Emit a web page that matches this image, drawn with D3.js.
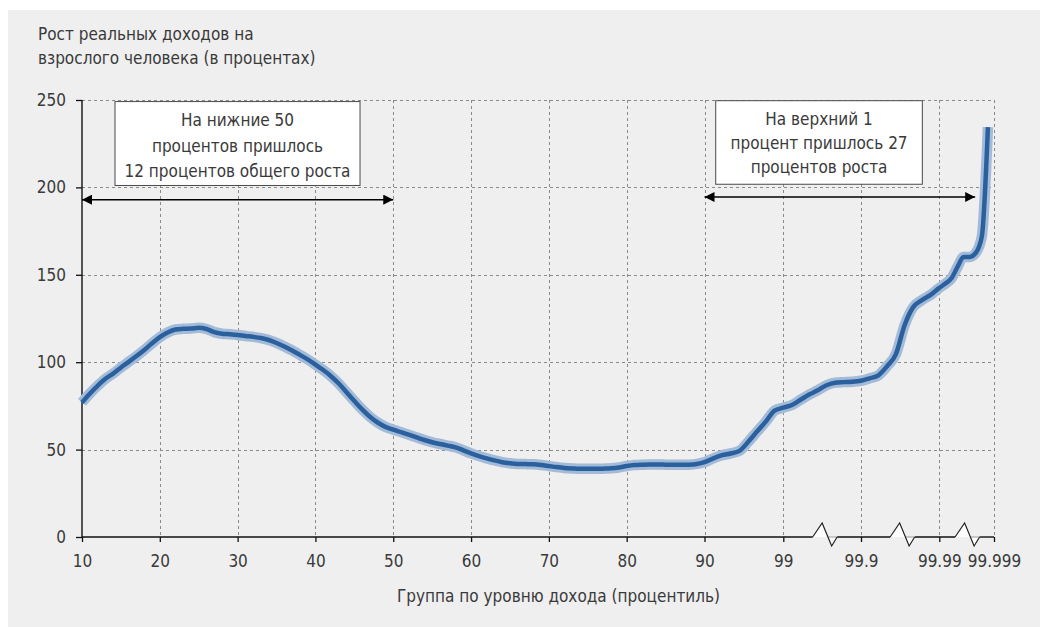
<!DOCTYPE html>
<html><head><meta charset="utf-8">
<script src="https://cdn.jsdelivr.net/npm/d3@7"></script>
<style>
html,body{margin:0;padding:0;background:#fff;}
svg text{font-family:"Liberation Sans Narrow","Arial Narrow","DejaVu Sans Condensed","Roboto",sans-serif;fill:#3a3a3a;}
</style></head><body>
<svg id="chart" width="1040" height="627"></svg>
<script>
// ---------- DATA ----------
const percentiles = [10,11,12,13,14,15,16,17,18,19,20,21,22,23,24,25,26,27,28,29,30,31,32,33,34,35,36,37,38,39,40,41,42,43,44,45,46,47,48,49,50,51,52,53,54,55,56,57,58,59,60,61,62,63,64,65,66,67,68,69,70,71,72,73,74,75,76,77,78,79,80,81,82,83,84,85,86,87,88,89,90,91,92,93,94,95,96,97,98,99,
  99.1,99.2,99.3,99.4,99.5,99.6,99.7,99.8,99.9,
  99.91,99.92,99.93,99.94,99.95,99.96,99.97,99.98,99.99,
  99.991,99.992,99.993,99.994,99.995,99.996,99.997,99.998];
const growth = [77,82,86.5,90.5,93.5,97,100.2,103.5,107,110.8,114.3,117,118.7,119.1,119.3,119.7,119,117.2,116.3,116,115.6,115,114.5,113.8,112.7,111,109,106.7,104.2,101.6,98.6,95.5,92,87.8,82.8,77.8,73,68.8,65.5,63,61.4,60,58.5,57,55.5,54.2,53.2,52.3,51.3,49.6,47.8,46.3,45,43.8,42.8,42.2,41.8,41.7,41.6,41.2,40.6,40,39.5,39.2,39,39,39,39.1,39.3,39.8,40.6,41.2,41.4,41.5,41.5,41.4,41.3,41.3,41.4,41.8,42.8,45,46.8,47.8,49.3,54.5,60.3,66,72.3,74,
  75.5,78.5,81.5,84,86.8,88.3,88.6,88.8,89.4,
  90.8,92.5,97.7,104.5,121,131.5,135.5,138.5,142.5,
  145,148,154.5,160.2,160.2,162.5,172,234.5];
const xTickValues = [10,20,30,40,50,60,70,80,90,99,99.9,99.99,99.999];
const xTickLabels = ["10","20","30","40","50","60","70","80","90","99","99.9","99.99","99.999"];
const yTickValues = [0,50,100,150,200,250];
const yTickLabels = ["0","50","100","150","200","250"];
const breakPoints = [99.34, 99.9335, 99.9926];
const titleLines = ["Рост реальных доходов на","взрослого человека (в процентах)"];
const xTitle = "Группа по уровню дохода (процентиль)";
const noteBottomLines = ["На нижние 50","процентов пришлось","12 процентов общего роста"];
const noteTopLines = ["На верхний 1","процент пришлось 27","процентов роста"];
const noteBottomBox = [14.24, 45.73, 249.1, 201.1];
const noteTopBox = [91.28, 99.9705, 249.6, 201.8];
const arrowBottom = [10, 50, 193];
const arrowTop = [90, 99.9959, 194.5];

// ---------- LAYOUT ----------
const svg = d3.select("#chart");
const L = 82, R = 994, T = 100, B = 537;
const x = d3.scaleLinear()
  .domain([10, 90, 99, 99.9, 99.99, 99.999])
  .range([L, 704.5, 783.3, 861, 939.3, R]);
const y = d3.scaleLinear().domain([0, 250]).range([B, T]);

svg.append("rect").attr("x", 8).attr("y", 10).attr("width", 1032).attr("height", 617).attr("fill", "#efefef");

// title
svg.append("g").selectAll("text").data(titleLines).join("text")
  .attr("x", 38).attr("y", (d, i) => 39.5 + i * 24)
  .style("font-size", "17px").text(d => d);

// grid
const grid = svg.append("g").attr("stroke", "#8a8a8a").attr("stroke-width", 1).attr("stroke-dasharray", "3,3");
grid.selectAll("line.h").data(yTickValues.filter(v => v > 0)).join("line")
  .attr("x1", L).attr("x2", R).attr("y1", d => Math.round(y(d)) + 0.5).attr("y2", d => Math.round(y(d)) + 0.5);
grid.selectAll("line.v").data(xTickValues.slice(1)).join("line")
  .attr("x1", d => Math.round(x(d)) + 0.5).attr("x2", d => Math.round(x(d)) + 0.5).attr("y1", T).attr("y2", B);

// axes
const xAxis = d3.axisBottom(x).tickValues(xTickValues).tickFormat((d, i) => xTickLabels[i]).tickSize(5).tickPadding(13);
const gx = svg.append("g").attr("transform", `translate(0,${B})`).call(xAxis);
gx.select(".domain").remove();
gx.selectAll("line").attr("stroke", "#111").attr("stroke-width", 1.3);
gx.selectAll("text").style("font-size", "17px").attr("fill", "#3a3a3a");

const yAxis = d3.axisLeft(y).tickValues(yTickValues).tickFormat((d, i) => yTickLabels[i]).tickSize(6).tickPadding(10);
const gy = svg.append("g").attr("transform", `translate(${L},0)`).call(yAxis);
gy.select(".domain").remove();
gy.selectAll("line").attr("stroke", "#111").attr("stroke-width", 1.3);
gy.selectAll("text").style("font-size", "17px").attr("fill", "#3a3a3a");

svg.append("line").attr("x1", L).attr("x2", L).attr("y1", T).attr("y2", B + 0.7)
  .attr("stroke", "#111").attr("stroke-width", 1.4);

// x axis line with breaks
const bw = 24.5;
const bxs = breakPoints.map(p => x(p));
let segStart = L;
const segs = [];
bxs.forEach(bx => { segs.push([segStart, bx]); segStart = bx + bw; });
segs.push([segStart, R]);
svg.append("g").selectAll("line").data(segs).join("line")
  .attr("x1", d => d[0]).attr("x2", d => d[1]).attr("y1", B).attr("y2", B)
  .attr("stroke", "#111").attr("stroke-width", 1.4);
const brk = svg.append("g").selectAll("g").data(bxs).join("g");
brk.append("path")
  .attr("d", bx => `M${bx},${B}L${bx + 9.5},${B - 14}L${bx + 19},${B + 9}L${bx + bw},${B}Z`)
  .attr("fill", "#fff").attr("stroke", "none");
brk.append("line").attr("x1", bx => bx + 15.3).attr("x2", bx => bx + bw).attr("y1", B).attr("y2", B)
  .attr("stroke", "#b5b5b5").attr("stroke-width", 1.4);
brk.append("path")
  .attr("d", bx => `M${bx},${B}L${bx + 9.5},${B - 14}L${bx + 19},${B + 9}L${bx + bw},${B}`)
  .attr("fill", "none").attr("stroke", "#222").attr("stroke-width", 1.2);

// x title
svg.append("text").attr("x", 558.5).attr("y", 601.5).attr("text-anchor", "middle")
  .style("font-size", "17px").text(xTitle);

// notes
const defs = svg.append("defs");
defs.append("marker").attr("id", "ah").attr("viewBox", "0 0 10 10").attr("refX", 10).attr("refY", 5)
  .attr("markerWidth", 10).attr("markerHeight", 10).attr("markerUnits", "userSpaceOnUse")
  .attr("orient", "auto-start-reverse")
  .append("path").attr("d", "M0,0L10,5L0,10Z").attr("fill", "#000");

function drawNote(box, lines, arrow, offs) {
  const x0 = x(box[0]), x1 = x(box[1]), y0 = y(box[2]), y1 = y(box[3]);
  svg.append("rect").attr("x", x0).attr("y", y0).attr("width", x1 - x0).attr("height", y1 - y0)
    .attr("fill", "#fff").attr("stroke", "#4a4a4a").attr("stroke-width", 1);
  svg.append("g").selectAll("text").data(lines).join("text")
    .attr("x", (x0 + x1) / 2).attr("y", (d, i) => y0 + offs[i])
    .attr("text-anchor", "middle").style("font-size", "17px").text(d => d);
  svg.append("line").attr("x1", x(arrow[0])).attr("x2", x(arrow[1]))
    .attr("y1", y(arrow[2])).attr("y2", y(arrow[2]))
    .attr("stroke", "#000").attr("stroke-width", 1.5)
    .attr("marker-start", "url(#ah)").attr("marker-end", "url(#ah)");
}
drawNote(noteBottomBox, noteBottomLines, arrowBottom, [24.5, 50, 75.5]);
drawNote(noteTopBox, noteTopLines, arrowTop, [24, 48, 72]);

// line
const pts = percentiles.map((p, i) => [p, growth[i]]);
const line = d3.line().x(d => x(d[0])).y(d => y(d[1])).curve(d3.curveMonotoneX);
svg.append("path").datum(pts).attr("d", line).attr("fill", "none")
  .attr("stroke", "#a3bbd7").attr("stroke-width", 10.5).attr("stroke-linejoin", "round");
svg.append("path").datum(pts).attr("d", line).attr("fill", "none")
  .attr("stroke", "#2a609e").attr("stroke-width", 4.5).attr("stroke-linejoin", "round");
</script>
</body></html>
